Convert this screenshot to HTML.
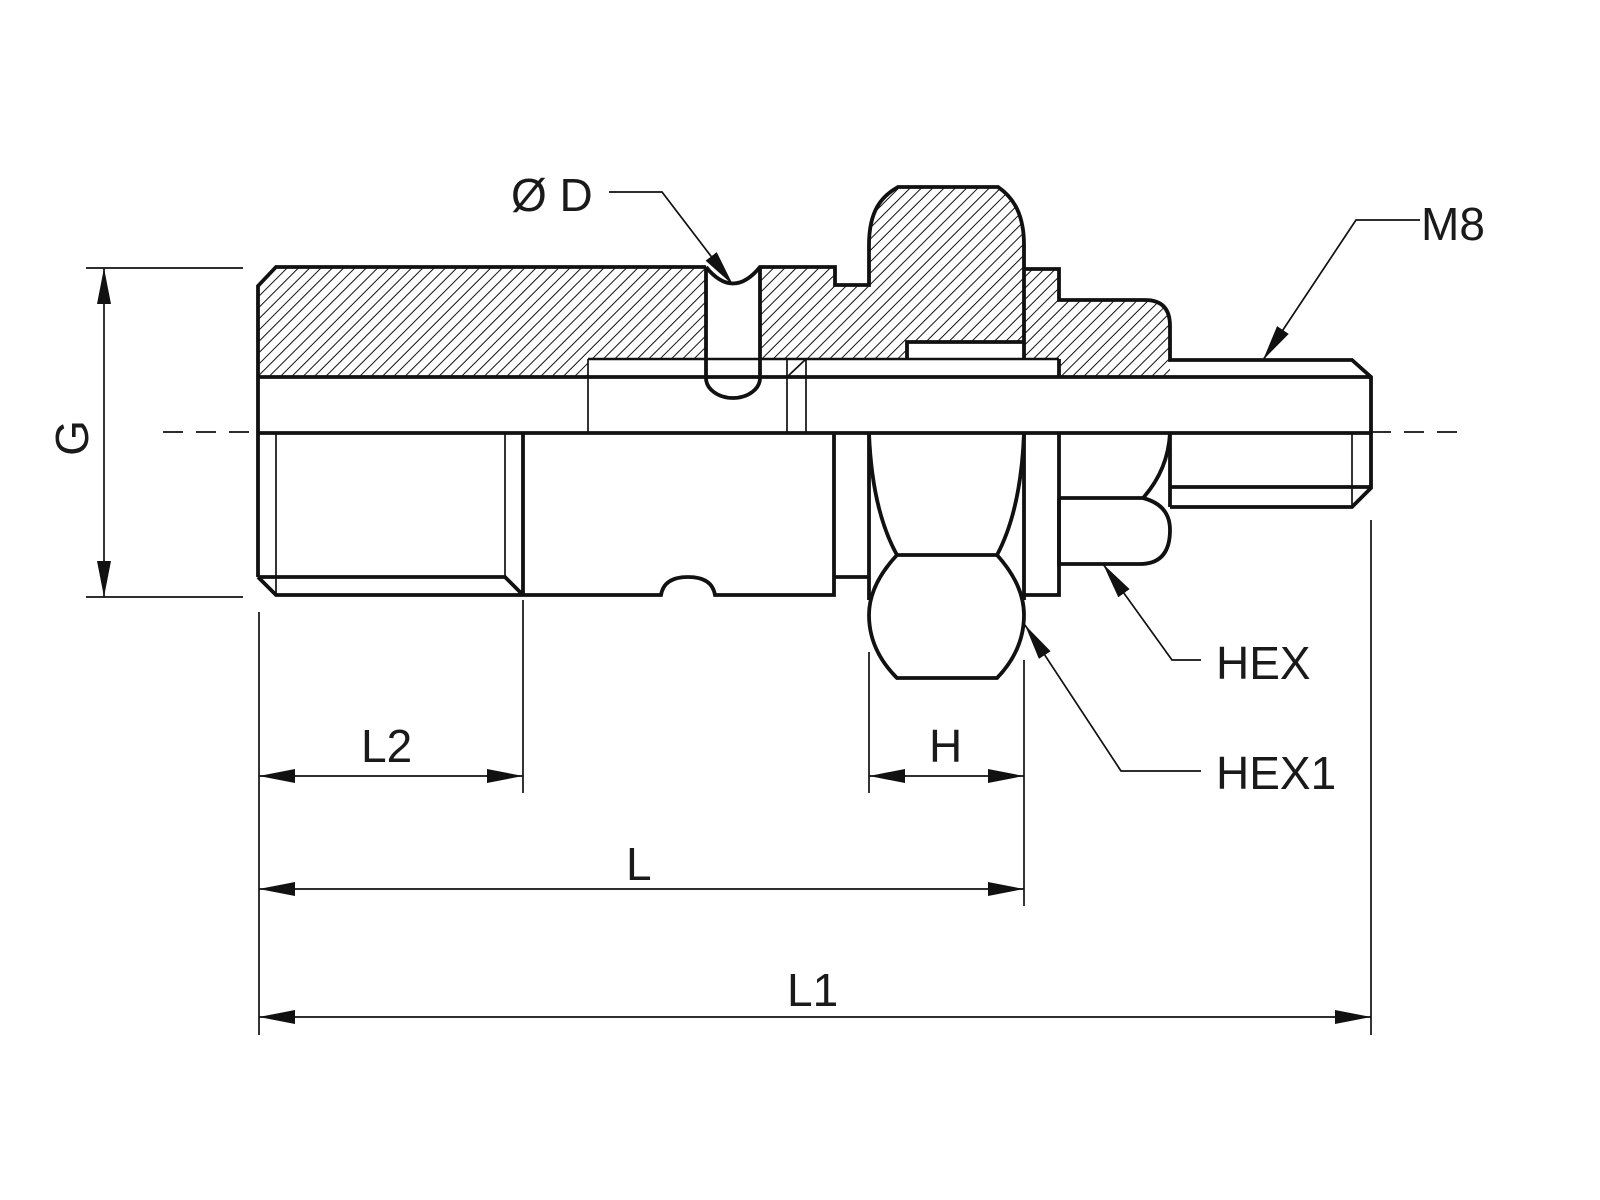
<!DOCTYPE html>
<html><head><meta charset="utf-8"><style>
html,body{margin:0;padding:0;background:#fff}
svg{display:block}
text{font-family:"Liberation Sans",sans-serif;font-size:46px;fill:#1a1a1a}
</style></head><body>
<svg width="1600" height="1200" viewBox="0 0 1600 1200" xmlns="http://www.w3.org/2000/svg">
<defs>
<pattern id="h" width="8" height="8" patternUnits="userSpaceOnUse" patternTransform="rotate(45)">
<line x1="0" y1="0" x2="0" y2="8" stroke="#111" stroke-width="2"/>
</pattern>
<marker id="a" viewBox="0 0 36 14" refX="36" refY="7" markerWidth="36" markerHeight="14" markerUnits="userSpaceOnUse" orient="auto-start-reverse">
<path d="M0,0 L36,7 L0,14 Z" fill="#111"/>
</marker>
</defs>

<path d="M258,286 L276,267 L835,267 L835,285 L869,285 L869,245 C869,210 882,196 898,187 L998,187 C1014,198 1024,215 1024,245 L1024,269 L1059,269 L1059,300 L1145,300 Q1170,300 1170,326 L1170,377 L1059,377 L1059,359 L1024,359 L1024,342 L907,342 L907,359 L588,359 L588,377 L258,377 Z" fill="url(#h)"/>
<path d="M706,262 L760,262 L760,378 A27,20 0 0 1 706,378 Z" fill="#fff"/>

<g fill="none" stroke="#111" stroke-width="3.8" stroke-linejoin="miter">
<path d="M258,577 L258,286 L276,267 L706,267"/>
<path d="M706,267 Q733,300 760,267 L835,267 L835,285 L869,285 L869,245 C869,210 882,196 898,187 L998,187 C1014,198 1024,215 1024,245 L1024,359"/>
<path d="M1024,269 L1059,269 L1059,300 L1145,300 Q1170,300 1170,326 L1170,360 L1352,360 L1371,377 L1371,488 L1352,507 L1170,507"/>
<path d="M706,267 L706,378 A27,20 0 0 0 760,378 L760,267"/>
<path d="M907,359 L907,342 L1024,342"/>
<path d="M1059,377 L1059,359"/>
<line x1="258" y1="377" x2="1371" y2="377"/>
<line x1="258" y1="433" x2="1371" y2="433"/>
<path d="M258,577 L276,595 L523,595"/>
<path d="M258,577 L505,577 L523,595"/>
<line x1="523" y1="433" x2="523" y2="595"/>
<path d="M523,595 L661,595 Q664,577 688,577 Q712,577 715,595 L834,595 L834,433"/>
<path d="M834,577 L869,577"/>
<line x1="869" y1="433" x2="869" y2="600"/>
<line x1="1024" y1="433" x2="1024" y2="600"/>
<path d="M869,433 Q872,510 897,555 L997,555 Q1021,510 1024,433"/>
<path d="M897,555 Q869,585 869,615 Q869,650 897,678 L997,678 Q1024,650 1024,615 Q1024,585 997,555"/>
<path d="M1024,595 L1059,595 L1059,433"/>
<path d="M1059,498 L1143,498 Q1168,470 1170,433"/>
<path d="M1143,498 Q1170,505 1170,530 Q1170,564 1140,564 L1059,564 L1059,498"/>
<line x1="1170" y1="433" x2="1170" y2="507"/>
<line x1="1170" y1="487" x2="1371" y2="487"/>
</g>

<g fill="none" stroke="#111" stroke-width="1.7">
<line x1="276" y1="433" x2="276" y2="595"/>
<line x1="505" y1="433" x2="505" y2="577"/>
<line x1="588" y1="359" x2="588" y2="433"/>
<line x1="588" y1="359" x2="1059" y2="359" stroke-width="2.4"/>
<line x1="787" y1="359" x2="787" y2="433"/>
<line x1="806" y1="359" x2="806" y2="433"/>
<line x1="787" y1="377" x2="806" y2="359"/>
<line x1="1352" y1="433" x2="1352" y2="507"/>
<path d="M163,432 H258 M1371,432 H1462" stroke-dasharray="20,13"/>
<line x1="86" y1="268" x2="243" y2="268"/>
<line x1="86" y1="597" x2="243" y2="597"/>
<line x1="259" y1="612" x2="259" y2="1035"/>
<line x1="523" y1="600" x2="523" y2="793"/>
<line x1="869" y1="652" x2="869" y2="793"/>
<line x1="1024" y1="660" x2="1024" y2="906"/>
<line x1="1371" y1="520" x2="1371" y2="1035"/>
<line x1="259" y1="776" x2="523" y2="776" marker-start="url(#a)" marker-end="url(#a)"/>
<line x1="869" y1="776" x2="1024" y2="776" marker-start="url(#a)" marker-end="url(#a)"/>
<line x1="259" y1="889" x2="1024" y2="889" marker-start="url(#a)" marker-end="url(#a)"/>
<line x1="259" y1="1017" x2="1371" y2="1017" marker-start="url(#a)" marker-end="url(#a)"/>
<line x1="104" y1="268" x2="104" y2="597" marker-start="url(#a)" marker-end="url(#a)"/>
<path d="M609,192 L662,192 L733,285" marker-end="url(#a)"/>
<path d="M1420,220 L1356,220 L1263,360" marker-end="url(#a)"/>
<path d="M1201,660 L1172,660 L1103,564" marker-end="url(#a)"/>
<path d="M1201,771 L1121,771 L1025,625" marker-end="url(#a)"/>
</g>

<text x="511" y="211">Ø D</text>
<text x="1421" y="240">M8</text>
<text x="1216" y="679">HEX</text>
<text x="1216" y="789">HEX1</text>
<text x="361" y="762">L2</text>
<text x="929" y="762">H</text>
<text x="626" y="880">L</text>
<text x="787" y="1006">L1</text>
<text transform="translate(88,438) rotate(-90)" text-anchor="middle">G</text>
</svg>
</body></html>
